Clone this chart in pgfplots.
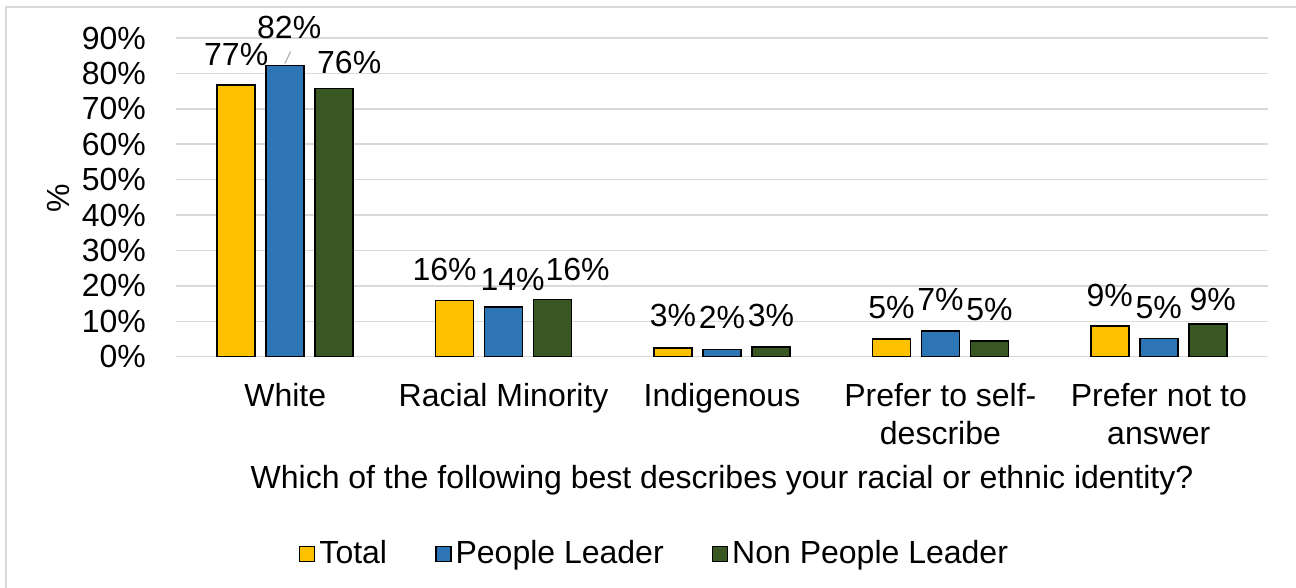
\documentclass[border=0pt]{standalone}
\usepackage{pgfplots}
\usepackage{pgfplotstable}
\pgfplotsset{compat=1.18}
\usepackage{fontspec}
\setmainfont{Liberation Sans}
\definecolor{cTot}{HTML}{FFC000}
\definecolor{cPL}{HTML}{2E75B6}
\definecolor{cNPL}{HTML}{385723}
\definecolor{cGrid}{HTML}{D9D9D9}

\pgfplotstableread{
x y lab dx dy
0 76.7 77 0 0
1 15.8 16 -5 0
2 2.5 3 0 0.5
3 5.0 5 0 0
4 8.6 9 0 0
}\tot
\pgfplotstableread{
x y lab dx dy
0 82.2 82 2 3.3
1 14.0 14 4.5 -1.5
2 2.0 2 0 0.5
3 7.3 7 0 0
4 5.2 5 0 0
}\pl
\pgfplotstableread{
x y lab dx dy
0 75.8 76 7.5 -2.5
1 16.2 16 12.5 -0.7
2 2.7 3 0 0.5
3 4.5 5 0 0
4 9.2 9 2.5 -3.5
}\npl

\begin{document}
\fontsize{16}{19}\selectfont
\begin{tikzpicture}
\path[use as bounding box] (0,0) rectangle (648pt,294pt);
\draw[cGrid, line width=0.75pt] (3pt,0) -- (3pt,290.5pt) -- (648pt,290.5pt);
\begin{axis}[
  at={(88pt,115.65pt)}, anchor=south west,
  scale only axis, width=546pt, height=159.35pt,
  ybar=5.5pt, bar width=19pt,
  xmin=-0.5, xmax=4.5, ymin=0, ymax=90,
  xtick={0,1,2,3,4},
  xticklabels={White,Racial Minority,Indigenous,{Prefer to self-\\describe},{Prefer not to\\answer}},
  xticklabel style={align=center, yshift=-8pt},
  ytick={0,10,...,90},
  yticklabels={0\%,10\%,20\%,30\%,40\%,50\%,60\%,70\%,80\%,90\%},
  yticklabel style={xshift=-9.5pt},
  major tick length=0,
  axis line style={draw=none},
  ymajorgrids, major grid style={cGrid, line width=0.75pt},
  xlabel={Which of the following best describes your racial or ethnic identity?},
  xlabel style={at={(0.5,-0.387)}, anchor=center},
  ylabel={\%},
  ylabel style={at={(-0.108,0.498)}, anchor=center},
  nodes near coords={\pgfplotspointmeta\%},
  point meta=explicit symbolic,
  visualization depends on={\thisrow{dx}\as\mydx},
  visualization depends on={\thisrow{dy}\as\mydy},
  every node near coord/.append style={xshift=\mydx pt, yshift=4.2pt+\mydy pt},
  legend style={at={(0.4391,-0.619)}, anchor=center, draw=none, legend columns=3,
    /tikz/every even column/.style={column sep=22pt}},
  legend image code/.code={\draw[#1, line width=0.75pt] (0pt,-3.75pt) rectangle (7.5pt,3.75pt);},
  clip=false,
]
\addplot[fill=cTot, draw=black, line width=0.75pt] table[x=x,y=y,meta=lab]{\tot};
\addplot[fill=cPL, draw=black, line width=0.75pt] table[x=x,y=y,meta=lab]{\pl};
\addplot[fill=cNPL, draw=black, line width=0.75pt] table[x=x,y=y,meta=lab]{\npl};
\legend{Total,People Leader,Non People Leader}
\draw[gray!70, line width=0.5pt] (axis cs:-0.002,82.8) -- (axis cs:0.025,86.2);
\end{axis}
\end{tikzpicture}
\end{document}
